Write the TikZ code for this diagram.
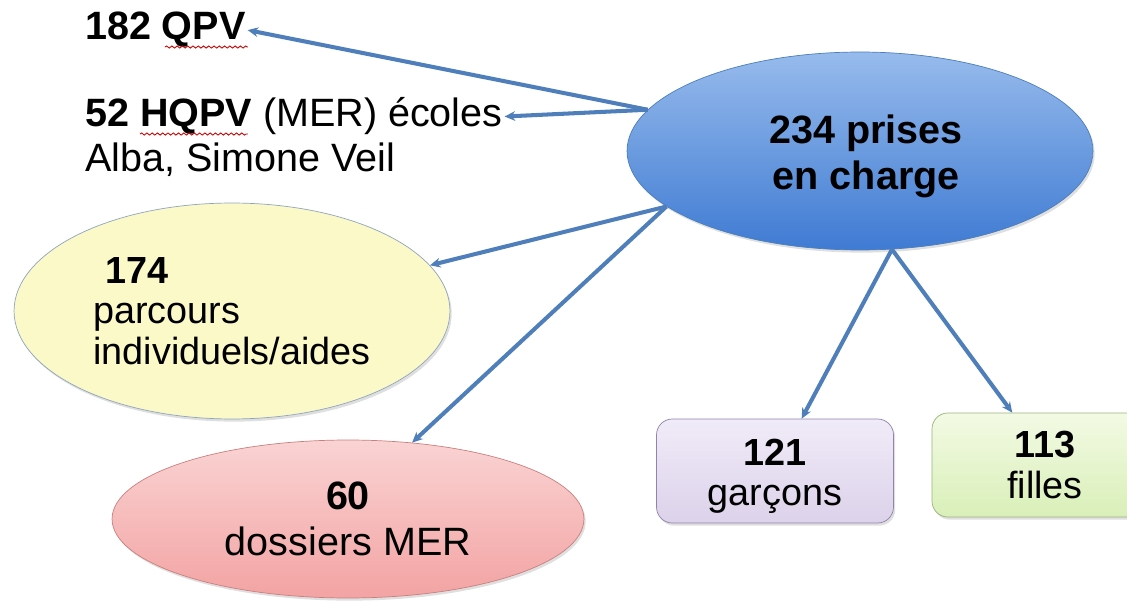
\documentclass[tikz,border=0pt]{standalone}
\usepackage{fontspec}
\setmainfont{Liberation Sans}
\usetikzlibrary{arrows.meta,positioning,shapes.geometric,shadows,decorations.pathmorphing}
\definecolor{arrowblue}{HTML}{4F7FBA}
\definecolor{blueline}{HTML}{4A7EBB}
\definecolor{bluetop}{HTML}{97BBEC}
\definecolor{bluebot}{HTML}{3F7BD3}
\definecolor{yellowfill}{HTML}{FCF9C8}
\definecolor{yellowline}{HTML}{8FA5BD}
\definecolor{pinktop}{HTML}{FAD3D3}
\definecolor{pinkbot}{HTML}{F3A3A3}
\definecolor{pinkline}{HTML}{C8807E}
\definecolor{purpletop}{HTML}{F0EBF8}
\definecolor{purplebot}{HTML}{DCD2EA}
\definecolor{purpleline}{HTML}{9183A9}
\definecolor{greentop}{HTML}{F3FAE4}
\definecolor{greenbot}{HTML}{D9EFB8}
\definecolor{greenline}{HTML}{9CB27E}
\newcommand{\bigtxt}{\fontsize{22.5}{26}\selectfont}
\newcommand{\midtxt}{\fontsize{21.5}{23}\selectfont}

\begin{document}
\begin{tikzpicture}[x=0.02cm,y=-0.02cm,>=Stealth,
   arr/.style={draw=arrowblue,line width=2.3pt,-{Stealth[length=6pt,width=5.5pt]}},
   bubble/.style={ellipse,draw,inner sep=0pt,align=center,
     drop shadow={opacity=0.25,shadow xshift=1pt,shadow yshift=-1.5pt}},
   card/.style={rectangle,rounded corners=9pt,draw,inner sep=0pt,align=center,
     drop shadow={opacity=0.25,shadow xshift=1pt,shadow yshift=-1.5pt}},
   lbl/.style={inner sep=1pt,anchor=base west,font=\bigtxt},
   squiggle/.style={draw=red!80!black,line width=0.5pt,
     decorate,decoration={snake,amplitude=0.6pt,segment length=3pt}}]
  \useasboundingbox (0,0) rectangle (1127,601);

  % central node
  \node[bubble,draw=blueline,top color=bluetop,bottom color=bluebot,
        minimum width=9.32cm,minimum height=3.96cm,font=\bigtxt\bfseries]
        (total) at (860,151) {\rule{0pt}{0.98em}\hspace*{0.25cm}234 prises\\\hspace*{0.25cm}en charge};

  % left texts
  \node[lbl] (qpv) at (83,40) {\textbf{182 QPV}};
  \node[lbl] (hqpv) at (83,127) {\textbf{52 HQPV} (MER) écoles};
  \node[lbl] (alba) at (83,172) {Alba, Simone Veil};
  \draw[squiggle] ([xshift=1.64cm,yshift=-4pt]qpv.base west) -- ([xshift=3.3cm,yshift=-4pt]qpv.base west);
  \draw[squiggle] ([xshift=1.14cm,yshift=-4pt]hqpv.base west) -- ([xshift=3.3cm,yshift=-4pt]hqpv.base west);

  % ellipses
  \node[bubble,draw=yellowline,fill=yellowfill,
        minimum width=8.72cm,minimum height=4.32cm,align=left,font=\midtxt]
        (parcours) at (232,311) {\hspace*{0.24cm}\textbf{174}\\parcours\\individuels/aides};
  \node[bubble,draw=pinkline,top color=pinktop,bottom color=pinkbot,
        minimum width=9.44cm,minimum height=3.16cm,font=\bigtxt]
        (dossiers) at (348,519) {\textbf{60}\\dossiers MER};

  % boxes
  \node[card,draw=purpleline,top color=purpletop,bottom color=purplebot,
        minimum width=4.74cm,minimum height=2.08cm,font=\midtxt]
        (garcons) at (775,471) {\rule{0pt}{0.98em}\textbf{121}\\garçons};
  \node[card,draw=greenline,top color=greentop,bottom color=greenbot,
        minimum width=4.52cm,minimum height=2.08cm,font=\midtxt]
        (filles) at (1045,465) {\textbf{113}\\filles};

  % arrows
  \draw[arr] (total.169) -- (qpv.east);
  \draw[arr] (total.169) -- (hqpv.east);
  \draw[arr] (total.196) -- (parcours.13);
  \draw[arr] (total.196) -- (dossiers.50);
  \draw[arr] (total.288) -- (garcons.63);
  \draw[arr] (total.288) -- (filles.122);
\end{tikzpicture}
\end{document}
